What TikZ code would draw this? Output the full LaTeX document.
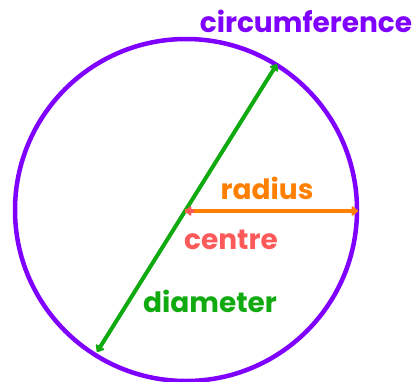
\documentclass[tikz,border=0pt]{standalone}
\usepackage{fontspec}
\setmainfont{Poppins}
\usetikzlibrary{arrows.meta,calc}
\definecolor{cpurple}{HTML}{7F00FF}
\definecolor{cgreen}{HTML}{11AA11}
\definecolor{corange}{HTML}{FF8000}
\definecolor{cred}{HTML}{FF5A5A}
\tikzset{
  lbl/.style={font=\fontsize{28}{28}\selectfont\bfseries, inner sep=0pt},
  ah/.tip={Triangle[length=7pt,width=11pt,round]},
  tip/.style={-ah},
}
\begin{document}
\begin{tikzpicture}[x=1pt,y=-1pt]
\useasboundingbox (0,0) rectangle (420,381);
\node[draw=cpurple, line width=4.5pt, circle, minimum size=342pt, inner sep=0pt] (circ) at (186,210) {};
\coordinate (c) at (185,211);
\coordinate (r) at (358,211);
\coordinate (rs) at (194,211);
\coordinate (dtop) at (277,64);
\coordinate (dbot) at (97,352);
\draw[cgreen, line width=4pt, ah-ah] (dbot) -- (dtop);
\draw[corange, line width=3.6pt, tip] (c) -- (r);
\draw[cred, line width=3.6pt, tip] (rs) -- (c);
\node[lbl, text=cpurple] (tcirc) at (306,21) {circumference};
\node[lbl, text=corange] (trad) at (267,188) {radius};
\node[lbl, text=cred] (tcen) at (231,240) {centre};
\node[lbl, text=cgreen] (tdia) at (210,301) {diameter};
\end{tikzpicture}
\end{document}
